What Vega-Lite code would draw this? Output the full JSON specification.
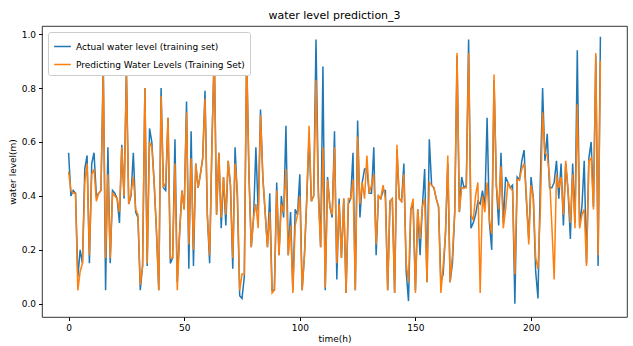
{
"$schema":"https://vega.github.io/schema/vega-lite/v6.json",
"width":585,"height":291,
"autosize":"none",
"padding":{"left":42,"top":26,"right":6,"bottom":29},
"background":"white",
"title":{"text":"water level prediction_3","font":"DejaVu Sans","fontSize":11,"fontWeight":"normal","color":"black","offset":5},
"data":{"values":[
{"t":0,"a":0.56,"p":0.49},{"t":1,"a":0.40,"p":0.42},{"t":2,"a":0.42,"p":0.41},{"t":3,"a":0.41,"p":0.41},{"t":4,"a":0.10,"p":0.05},
{"t":5,"a":0.20,"p":0.12},{"t":6,"a":0.15,"p":0.15},{"t":7,"a":0.50,"p":0.45},{"t":8,"a":0.55,"p":0.52},{"t":9,"a":0.15,"p":0.18},
{"t":10,"a":0.52,"p":0.48},{"t":11,"a":0.56,"p":0.50},{"t":12,"a":0.40,"p":0.38},{"t":13,"a":0.41,"p":0.41},{"t":14,"a":0.42,"p":0.42},
{"t":15,"a":0.89,"p":0.85},{"t":16,"a":0.05,"p":0.17},{"t":17,"a":0.58,"p":0.48},{"t":18,"a":0.15,"p":0.17},{"t":19,"a":0.42,"p":0.41},
{"t":20,"a":0.41,"p":0.40},{"t":21,"a":0.39,"p":0.39},{"t":22,"a":0.30,"p":0.34},{"t":23,"a":0.59,"p":0.58},{"t":24,"a":0.39,"p":0.40},
{"t":25,"a":0.87,"p":0.85},{"t":26,"a":0.37,"p":0.37},{"t":27,"a":0.40,"p":0.41},{"t":28,"a":0.56,"p":0.47},{"t":29,"a":0.34,"p":0.35},
{"t":30,"a":0.32,"p":0.33},{"t":31,"a":0.05,"p":0.07},{"t":32,"a":0.14,"p":0.14},{"t":33,"a":0.80,"p":0.80},{"t":34,"a":0.14,"p":0.15},
{"t":35,"a":0.65,"p":0.60},{"t":36,"a":0.60,"p":0.58},{"t":37,"a":0.45,"p":0.45},{"t":38,"a":0.27,"p":0.27},{"t":39,"a":0.05,"p":0.05},
{"t":40,"a":0.80,"p":0.77},{"t":41,"a":0.43,"p":0.43},{"t":42,"a":0.42,"p":0.45},{"t":43,"a":0.69,"p":0.69},{"t":44,"a":0.15,"p":0.17},
{"t":45,"a":0.17,"p":0.17},{"t":46,"a":0.61,"p":0.52},{"t":47,"a":0.08,"p":0.05},{"t":48,"a":0.26,"p":0.26},{"t":49,"a":0.42,"p":0.42},
{"t":50,"a":0.35,"p":0.35},{"t":51,"a":0.75,"p":0.71},{"t":52,"a":0.13,"p":0.22},{"t":53,"a":0.64,"p":0.54},{"t":54,"a":0.14,"p":0.20},
{"t":55,"a":0.52,"p":0.52},{"t":56,"a":0.43,"p":0.43},{"t":57,"a":0.48,"p":0.48},{"t":58,"a":0.54,"p":0.54},{"t":59,"a":0.79,"p":0.76},
{"t":60,"a":0.33,"p":0.33},{"t":61,"a":0.15,"p":0.18},{"t":62,"a":0.60,"p":0.59},{"t":63,"a":0.93,"p":0.94},{"t":64,"a":0.33,"p":0.33},
{"t":65,"a":0.56,"p":0.56},{"t":66,"a":0.28,"p":0.32},{"t":67,"a":0.47,"p":0.47},{"t":68,"a":0.29,"p":0.33},{"t":69,"a":0.53,"p":0.53},
{"t":70,"a":0.44,"p":0.44},{"t":71,"a":0.13,"p":0.17},{"t":72,"a":0.58,"p":0.52},{"t":73,"a":0.39,"p":0.42},{"t":74,"a":0.03,"p":0.05},
{"t":75,"a":0.02,"p":0.11},{"t":76,"a":0.10,"p":0.11},{"t":77,"a":0.93,"p":0.93},{"t":78,"a":0.48,"p":0.48},{"t":79,"a":0.21,"p":0.21},
{"t":80,"a":0.32,"p":0.32},{"t":81,"a":0.58,"p":0.37},{"t":82,"a":0.34,"p":0.28},{"t":83,"a":0.72,"p":0.70},{"t":84,"a":0.47,"p":0.47},
{"t":85,"a":0.34,"p":0.34},{"t":86,"a":0.21,"p":0.21},{"t":87,"a":0.41,"p":0.34},{"t":88,"a":0.05,"p":0.04},{"t":89,"a":0.05,"p":0.05},
{"t":90,"a":0.45,"p":0.42},{"t":91,"a":0.18,"p":0.18},{"t":92,"a":0.40,"p":0.37},{"t":93,"a":0.32,"p":0.34},{"t":94,"a":0.66,"p":0.50},
{"t":95,"a":0.18,"p":0.18},{"t":96,"a":0.34,"p":0.29},{"t":97,"a":0.05,"p":0.04},{"t":98,"a":0.35,"p":0.29},{"t":99,"a":0.33,"p":0.33},
{"t":100,"a":0.48,"p":0.40},{"t":101,"a":0.05,"p":0.05},{"t":102,"a":0.18,"p":0.18},{"t":103,"a":0.39,"p":0.39},{"t":104,"a":0.62,"p":0.66},
{"t":105,"a":0.38,"p":0.38},{"t":106,"a":0.40,"p":0.40},{"t":107,"a":0.98,"p":0.83},{"t":108,"a":0.43,"p":0.40},{"t":109,"a":0.21,"p":0.21},
{"t":110,"a":0.88,"p":0.58},{"t":111,"a":0.05,"p":0.06},{"t":112,"a":0.47,"p":0.46},{"t":113,"a":0.36,"p":0.36},{"t":114,"a":0.32,"p":0.33},
{"t":115,"a":0.64,"p":0.58},{"t":116,"a":0.09,"p":0.15},{"t":117,"a":0.39,"p":0.37},{"t":118,"a":0.17,"p":0.17},{"t":119,"a":0.39,"p":0.39},
{"t":120,"a":0.04,"p":0.04},{"t":121,"a":0.37,"p":0.39},{"t":122,"a":0.39,"p":0.39},{"t":123,"a":0.56,"p":0.46},{"t":124,"a":0.05,"p":0.05},
{"t":125,"a":0.68,"p":0.62},{"t":126,"a":0.32,"p":0.37},{"t":127,"a":0.45,"p":0.45},{"t":128,"a":0.50,"p":0.39},{"t":129,"a":0.50,"p":0.55},
{"t":130,"a":0.41,"p":0.41},{"t":131,"a":0.41,"p":0.44},{"t":132,"a":0.58,"p":0.48},{"t":133,"a":0.18,"p":0.22},{"t":134,"a":0.40,"p":0.40},
{"t":135,"a":0.39,"p":0.39},{"t":136,"a":0.42,"p":0.44},{"t":137,"a":0.42,"p":0.39},{"t":138,"a":0.05,"p":0.05},{"t":139,"a":0.38,"p":0.38},
{"t":140,"a":0.39,"p":0.39},{"t":141,"a":0.04,"p":0.04},{"t":142,"a":0.57,"p":0.59},{"t":143,"a":0.39,"p":0.39},{"t":144,"a":0.38,"p":0.38},
{"t":145,"a":0.52,"p":0.48},{"t":146,"a":0.12,"p":0.15},{"t":147,"a":0.01,"p":0.08},{"t":148,"a":0.35,"p":0.35},{"t":149,"a":0.37,"p":0.39},
{"t":150,"a":0.05,"p":0.04},{"t":151,"a":0.35,"p":0.35},{"t":152,"a":0.18,"p":0.24},{"t":153,"a":0.36,"p":0.36},{"t":154,"a":0.50,"p":0.39},
{"t":155,"a":0.08,"p":0.08},{"t":156,"a":0.61,"p":0.45},{"t":157,"a":0.44,"p":0.44},{"t":158,"a":0.43,"p":0.43},{"t":159,"a":0.39,"p":0.39},
{"t":160,"a":0.36,"p":0.36},{"t":161,"a":0.08,"p":0.04},{"t":162,"a":0.11,"p":0.14},{"t":163,"a":0.26,"p":0.26},{"t":164,"a":0.52,"p":0.55},
{"t":165,"a":0.08,"p":0.08},{"t":166,"a":0.15,"p":0.18},{"t":167,"a":0.34,"p":0.34},{"t":168,"a":0.92,"p":0.93},{"t":169,"a":0.34,"p":0.34},
{"t":170,"a":0.47,"p":0.43},{"t":171,"a":0.43,"p":0.43},{"t":172,"a":0.44,"p":0.43},{"t":173,"a":0.98,"p":0.93},{"t":174,"a":0.28,"p":0.33},
{"t":175,"a":0.30,"p":0.31},{"t":176,"a":0.33,"p":0.40},{"t":177,"a":0.38,"p":0.45},{"t":178,"a":0.37,"p":0.04},{"t":179,"a":0.42,"p":0.40},
{"t":180,"a":0.36,"p":0.34},{"t":181,"a":0.69,"p":0.45},{"t":182,"a":0.30,"p":0.31},{"t":183,"a":0.20,"p":0.26},{"t":184,"a":0.83,"p":0.85},
{"t":185,"a":0.44,"p":0.44},{"t":186,"a":0.29,"p":0.35},{"t":187,"a":0.56,"p":0.51},{"t":188,"a":0.30,"p":0.28},{"t":189,"a":0.47,"p":0.35},
{"t":190,"a":0.45,"p":0.45},{"t":191,"a":0.43,"p":0.43},{"t":192,"a":0.44,"p":0.42},{"t":193,"a":0.00,"p":0.11},{"t":194,"a":0.47,"p":0.46},
{"t":195,"a":0.46,"p":0.46},{"t":196,"a":0.53,"p":0.50},{"t":197,"a":0.57,"p":0.52},{"t":198,"a":0.38,"p":0.40},{"t":199,"a":0.24,"p":0.22},
{"t":200,"a":0.47,"p":0.44},{"t":201,"a":0.39,"p":0.39},{"t":202,"a":0.12,"p":0.17},{"t":203,"a":0.02,"p":0.13},{"t":204,"a":0.45,"p":0.34},
{"t":205,"a":0.80,"p":0.71},{"t":206,"a":0.53,"p":0.56},{"t":207,"a":0.63,"p":0.55},{"t":208,"a":0.43,"p":0.47},{"t":209,"a":0.43,"p":0.29},
{"t":210,"a":0.45,"p":0.09},{"t":211,"a":0.53,"p":0.48},{"t":212,"a":0.39,"p":0.43},{"t":213,"a":0.52,"p":0.47},{"t":214,"a":0.29,"p":0.33},
{"t":215,"a":0.52,"p":0.53},{"t":216,"a":0.42,"p":0.42},{"t":217,"a":0.24,"p":0.30},{"t":218,"a":0.52,"p":0.48},{"t":219,"a":0.30,"p":0.28},
{"t":220,"a":0.94,"p":0.74},{"t":221,"a":0.29,"p":0.28},{"t":222,"a":0.36,"p":0.33},{"t":223,"a":0.53,"p":0.35},{"t":224,"a":0.15,"p":0.14},
{"t":225,"a":0.54,"p":0.53},{"t":226,"a":0.60,"p":0.54},{"t":227,"a":0.36,"p":0.35},{"t":228,"a":0.92,"p":0.93},{"t":229,"a":0.14,"p":0.18},
{"t":230,"a":0.99,"p":0.90}
]},
"encoding":{
"x":{"field":"t","type":"quantitative","scale":{"domain":[-11.5,241.5],"nice":false,"zero":false},
 "axis":{"title":"time(h)","values":[0,50,100,150,200],"grid":false,"domain":false,"tickColor":"black","tickSize":3.5,"labelColor":"black","labelFontSize":9,"labelFont":"DejaVu Sans","titleFont":"DejaVu Sans","titleFontSize":9,"titleFontWeight":"normal","titleColor":"black","labelPadding":3,"titlePadding":2}}
},
"layer":[
{"mark":{"type":"line","strokeWidth":1.5},
 "encoding":{"y":{"field":"a","type":"quantitative","scale":{"domain":[-0.049,1.03],"nice":false,"zero":false},
  "axis":{"title":"water level(m)","values":[0,0.2,0.4,0.6,0.8,1.0],"format":".1f","grid":false,"domain":false,"tickColor":"black","tickSize":3.5,"labelColor":"black","labelFontSize":9,"labelFont":"DejaVu Sans","titleFont":"DejaVu Sans","titleFontSize":9,"titleFontWeight":"normal","titleColor":"black","labelPadding":3,"titlePadding":4}},
  "color":{"datum":"Actual water level (training set)","type":"nominal","scale":{"domain":["Actual water level (training set)","Predicting Water Levels (Training Set)"],"range":["#1f77b4","#ff7f0e"]},
   "legend":{"title":null,"orient":"top-left","offset":6,"fillColor":"white","strokeColor":"#cccccc","cornerRadius":2,"padding":5,"symbolType":"stroke","symbolSize":280,"symbolStrokeWidth":1.5,"labelFontSize":9,"labelFont":"DejaVu Sans","labelColor":"black","labelLimit":400,"rowPadding":3,"symbolOffset":0}}}},
{"mark":{"type":"line","strokeWidth":1.5},
 "encoding":{"y":{"field":"p","type":"quantitative"},"color":{"datum":"Predicting Water Levels (Training Set)","type":"nominal"}}}
],
"config":{"view":{"stroke":"black","strokeWidth":0.8},"font":"DejaVu Sans"}
}
